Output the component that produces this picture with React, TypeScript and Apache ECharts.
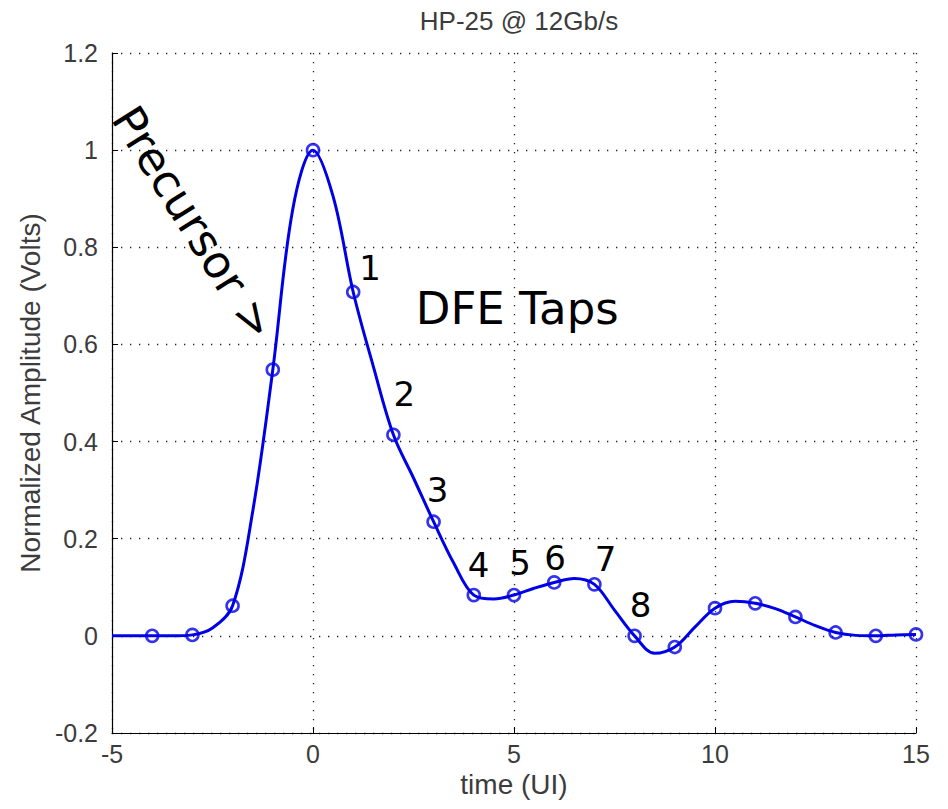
import React, { useEffect, useRef } from 'react';
import * as echarts from 'echarts';

// Continuous pulse-response curve (read at half-UI steps from the picture)
const curveX = [-5, -4, -3.5, -3, -2.5, -2, -1.5, -1, -0.5, 0, 0.5, 1, 1.5, 2, 2.5, 3, 3.5, 4, 4.5, 5, 5.5, 6, 6.5, 7, 7.5, 8, 8.5, 9, 9.5, 10, 10.5, 11, 11.5, 12, 12.5, 13, 13.5, 14, 14.5, 15];
const curveY = [0, 0, 0, 0.002, 0.016, 0.062, 0.256, 0.548, 0.88, 1.0, 0.905, 0.708, 0.555, 0.414, 0.325, 0.235, 0.15, 0.084, 0.076, 0.084, 0.098, 0.11, 0.118, 0.106, 0.053, 0.0, -0.036, -0.023, 0.018, 0.057, 0.071, 0.067, 0.056, 0.039, 0.021, 0.007, 0.001, 0.0, 0.002, 0.003];

// Sampled cursors (circles) at each UI
const tapX = [-4, -3, -2, -1, 0, 1, 2, 3, 4, 5, 6, 7, 8, 9, 10, 11, 12, 13, 14, 15];
const tapY = [0, 0.002, 0.062, 0.548, 1.0, 0.708, 0.414, 0.235, 0.084, 0.084, 0.11, 0.106, 0.0, -0.023, 0.057, 0.067, 0.039, 0.007, 0.0, 0.003];

// Annotations (text anchored in data coordinates)
const annoText = ['1', '2', '3', '4', '5', '6', '7', '8', 'DFE Taps', 'Precursor >'];
const annoX = [1.42, 2.27, 3.1, 4.12, 5.15, 6.02, 7.28, 8.15, 5.08, -2.97];
const annoY = [0.757, 0.497, 0.3, 0.145, 0.15, 0.161, 0.158, 0.064, 0.675, 0.85];

const titleText = 'HP-25 @ 12Gb/s';
const xName = 'time (UI)';
const yName = 'Normalized Amplitude (Volts)';

export default function App() {
  const ref = useRef<HTMLDivElement>(null);
  useEffect(() => {
    const chart = echarts.init(ref.current!, null, { renderer: 'svg' });
    const blue = '#0000e6';
    const grey = '#3c3c3c';
    const fontFamily = '"Liberation Sans", Arial, sans-serif';
    chart.setOption({
      animation: false,
      backgroundColor: '#ffffff',
      title: {
        text: titleText,
        left: 514,
        top: 3,
        textAlign: 'center',
        textStyle: { color: grey, fontSize: 26, fontWeight: 'normal', fontFamily },
      },
      grid: { left: 112, right: 32, top: 53, bottom: 76, containLabel: false },
      xAxis: {
        type: 'value',
        min: -5,
        max: 15,
        interval: 5,
        name: xName,
        nameLocation: 'middle',
        nameGap: 36,
        nameTextStyle: { color: grey, fontSize: 28, fontFamily },
        axisLine: { show: true, onZero: false, lineStyle: { color: '#000', width: 1.2 } },
        axisTick: { show: true, inside: true, length: 6, lineStyle: { color: '#000' } },
        axisLabel: { color: grey, fontSize: 25, fontFamily, margin: 8 },
        splitLine: { show: true, lineStyle: { color: '#222', width: 1.3, type: [1.3, 7.7] } },
      },
      yAxis: {
        type: 'value',
        min: -0.2,
        max: 1.2,
        interval: 0.2,
        name: yName,
        nameLocation: 'middle',
        nameGap: 64,
        nameTextStyle: { color: grey, fontSize: 28, fontFamily },
        axisLine: { show: true, onZero: false, lineStyle: { color: '#000', width: 1.2 } },
        axisTick: { show: true, inside: true, length: 6, lineStyle: { color: '#000' } },
        axisLabel: {
          color: grey,
          fontSize: 25,
          fontFamily,
          margin: 14,
          formatter: (v: number) => String(parseFloat(v.toFixed(1))),
        },
        splitLine: { show: true, lineStyle: { color: '#222', width: 1.3, type: [1.3, 7.7] } },
      },
      series: [
        {
          type: 'line',
          data: curveX.map((x, i) => [x, curveY[i]]),
          smooth: 0.35,
          showSymbol: false,
          lineStyle: { color: blue, width: 3 },
          z: 2,
        },
        {
          type: 'scatter',
          data: tapX.map((x, i) => [x, tapY[i]]),
          symbol: 'circle',
          symbolSize: 12,
          itemStyle: { color: 'rgba(0,0,0,0)', borderColor: blue, borderWidth: 2.6 },
          z: 3,
        },
      ],
    });

    const graphic = annoText.map((t, i) => {
      const p = chart.convertToPixel({ gridIndex: 0 }, [annoX[i], annoY[i]]) as number[];
      const isBig = t.length > 1;
      return {
        type: 'text',
        x: p[0],
        y: p[1],
        rotation: t.startsWith('Precursor') ? -58 * Math.PI / 180 : 0,
        z: 10,
        style: {
          text: t,
          x: 0,
          y: 0,
          align: 'center',
          verticalAlign: 'middle',
          fill: '#000',
          font: `${isBig ? 45 : 34}px "DejaVu Sans"`,
        },
      };
    });
    chart.setOption({ graphic });

    return () => chart.dispose();
  }, []);
  return (
    <div
      ref={ref}
      style={{ position: 'fixed', left: 0, top: 0, width: '948px', height: '809px', background: '#fff' }}
    />
  );
}
